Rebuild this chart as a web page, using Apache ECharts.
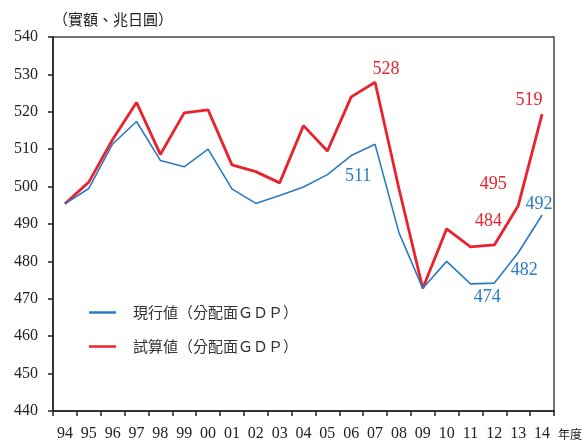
<!DOCTYPE html>
<html>
<head>
<meta charset="utf-8">
<script src="https://cdn.jsdelivr.net/npm/echarts@6/dist/echarts.min.js"></script>
<style>
  html, body { margin: 0; padding: 0; background: #fff; }
  #main { width: 585px; height: 444px; }
</style>
</head>
<body>
<div id="main"></div>
<script>
var years = ['94','95','96','97','98','99','00','01','02','03','04','05','06','07','08','09','10','11','12','13','14']
// 現行値（分配面GDP）
var current = [495.4, 499.5, 511.4, 517.4, 507.0, 505.3, 510.0, 499.4, 495.5, 497.6, 499.9, 503.2, 508.3, 511.3, 487.7, 472.8, 480.0, 474.0, 474.2, 482.3, 492.4]
// 試算値（分配面GDP）
var estimate = [495.4, 501.2, 512.6, 522.5, 508.6, 519.7, 520.5, 505.8, 504.0, 501.0, 516.3, 509.5, 524.0, 527.9, 499.5, 472.8, 488.7, 483.9, 484.4, 494.9, 519.4]
var yTicks = [440, 450, 460, 470, 480, 490, 500, 510, 520, 530, 540]

// which points carry a value label, and where it sits
var currentLabels = { 13: [-17, 32], 18: [-7, 14], 19: [6, 17], 20: [-3, -11] }
var estimateLabels = { 13: [11, -13], 17: [18, -26], 19: [-25, -21], 20: [-13, -14] }

var serif = 'Liberation Serif'
var cjk = 'Noto Sans CJK TC'
var blue = '#2b7bc4'
var red = '#e8232d'

function withLabels(values, labels, color) {
    return values.map(function (v, i) {
        if (!labels[i]) return v
        return {
            value: v,
            label: {
                show: true,
                position: 'inside',
                offset: labels[i],
                color: color,
                fontFamily: serif,
                fontSize: 18,
                formatter: function (p) { return Math.round(p.value) }
            }
        }
    })
}

var myChart = echarts.init(document.getElementById('main'))

var option = {
    animation: false,
    grid: {
        left: 53, right: 31, top: 37, bottom: 33,
        show: true, borderColor: '#444', borderWidth: 1.5
    },
    legend: {
        orient: 'vertical',
        left: 84, top: 300,
        itemWidth: 27, itemHeight: 2.5,
        itemGap: 19,
        icon: 'rect',
        textStyle: { fontFamily: cjk, fontSize: 15, color: '#333', padding: [0, 0, 0, 12] },
        data: ['現行値（分配面ＧＤＰ）', '試算値（分配面ＧＤＰ）']
    },
    xAxis: {
        type: 'category',
        data: years,
        boundaryGap: true,
        name: '年度',
        nameLocation: 'end',
        nameGap: 4,
        nameTextStyle: { fontFamily: cjk, fontSize: 12, color: '#222', verticalAlign: 'top', padding: [17, 0, 0, 0] },
        axisLine: { lineStyle: { color: '#222', width: 1.5 } },
        axisTick: { show: true, length: 5, lineStyle: { color: '#222', width: 1.5 } },
        axisLabel: { fontFamily: serif, fontSize: 16, color: '#222', margin: 15, interval: 0 },
        splitLine: { show: false }
    },
    yAxis: {
        type: 'value',
        min: yTicks[0],
        max: yTicks[yTicks.length - 1],
        interval: 10,
        name: '（實額、兆日圓）',
        nameLocation: 'end',
        nameGap: 10,
        nameTextStyle: { fontFamily: cjk, fontSize: 15, color: '#222', align: 'left', padding: [0, 0, 0, 0] },
        axisLine: { show: true, lineStyle: { color: '#222', width: 1.5 } },
        axisTick: { show: true, length: 5, lineStyle: { color: '#222', width: 1.5 } },
        axisLabel: { fontFamily: serif, fontSize: 16, color: '#222', margin: 15 },
        splitLine: { show: false }
    },
    series: [
        {
            name: '現行値（分配面ＧＤＰ）',
            type: 'line',
            data: withLabels(current, currentLabels, blue),
            showSymbol: true,
            symbol: 'circle',
            symbolSize: 0.01,
            color: blue,
            lineStyle: { color: blue, width: 1.6 },
            z: 3
        },
        {
            name: '試算値（分配面ＧＤＰ）',
            type: 'line',
            data: withLabels(estimate, estimateLabels, red),
            showSymbol: true,
            symbol: 'circle',
            symbolSize: 0.01,
            color: red,
            lineStyle: { color: red, width: 2.8 },
            z: 2
        }
    ]
}

myChart.setOption(option)
</script>
</body>
</html>
